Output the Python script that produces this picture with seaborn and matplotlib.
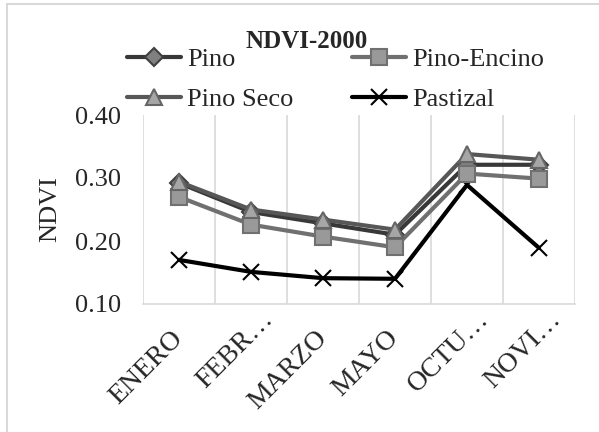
import matplotlib
matplotlib.use("Agg")
import matplotlib.pyplot as plt
import matplotlib.transforms as mtransforms
import seaborn as sns
import pandas as pd
from matplotlib.patches import Rectangle
from matplotlib.ticker import FormatStrFormatter

months = ["ENERO", "FEBR…", "MARZO", "MAYO", "OCTU…", "NOVI…"]
pino = [0.292, 0.246, 0.228, 0.210, 0.321, 0.321]
pino_encino = [0.270, 0.226, 0.207, 0.190, 0.307, 0.299]
pino_seco = [0.294, 0.250, 0.234, 0.218, 0.338, 0.329]
pastizal = [0.170, 0.151, 0.141, 0.140, 0.289, 0.189]
series_names = ["Pino", "Pino-Encino", "Pino Seco", "Pastizal"]
series_vals = [pino, pino_encino, pino_seco, pastizal]

sns.set_theme(style="white")
plt.rcParams["font.family"] = ["Liberation Serif", "DejaVu Serif"]

fig = plt.figure(figsize=(5.99, 4.32), dpi=100)
ax = fig.add_axes([143 / 599, 1 - 304 / 432, (575 - 143) / 599, (304 - 115) / 432])

line_colors = {"Pino": "#383838", "Pino-Encino": "#707070", "Pino Seco": "#575757", "Pastizal": "#000000"}
markers = {"Pino": "D", "Pino-Encino": "s", "Pino Seco": "^", "Pastizal": "x"}
face = {"Pino": "#808080", "Pino-Encino": "#999999", "Pino Seco": "#A6A6A6", "Pastizal": "#000000"}
edge = {"Pino": "#404040", "Pino-Encino": "#707070", "Pino Seco": "#666666", "Pastizal": "#000000"}
msize = {"Pino": 9, "Pino-Encino": 11, "Pino Seco": 11, "Pastizal": 11}
zord = {"Pino": 3, "Pino-Encino": 4, "Pino Seco": 5, "Pastizal": 2}

for name, vals in zip(series_names, series_vals):
    d = pd.DataFrame({"Mes": months, "NDVI": vals})
    sns.lineplot(data=d, x="Mes", y="NDVI", color=line_colors[name], sort=False,
                 marker=markers[name], markersize=msize[name],
                 markerfacecolor=face[name], markeredgecolor=edge[name],
                 markeredgewidth=1.5, linewidth=3, ax=ax, label=name,
                 legend=False, zorder=zord[name])

ax.set_ylim(0.10, 0.40)
ax.set_yticks([0.10, 0.20, 0.30, 0.40])
ax.yaxis.set_major_formatter(FormatStrFormatter("%.2f"))
ax.set_xlim(-0.5, 5.5)
ax.set_xticks(range(len(months)))
ax.set_xticklabels(months, rotation=45, fontsize=20)
ax.tick_params(axis="y", labelsize=19, length=0, pad=16)
ax.tick_params(axis="x", length=0, pad=22)
ax.set_xlabel("")
ax.set_ylabel("NDVI", fontsize=19, labelpad=10)

fs_px = 20 * 100 / 72
for lab in ax.get_xticklabels():
    lab.set_rotation_mode("anchor")
    lab.set_horizontalalignment("right")
    lab.set_verticalalignment("center")
    if lab.get_text().endswith("…"):
        shift = 0.95 * fs_px * 0.7071 / 100
        lab.set_transform(lab.get_transform() +
                          mtransforms.ScaledTranslation(shift, shift, fig.dpi_scale_trans))

for xb in [-0.5, 0.5, 1.5, 2.5, 3.5, 4.5, 5.5]:
    ax.axvline(xb, color="#D9D9D9", lw=1.2, zorder=0)
for s in ["top", "right", "left"]:
    ax.spines[s].set_visible(False)
ax.spines["bottom"].set_color("#D9D9D9")
ax.spines["bottom"].set_linewidth(1.2)

handles = []
for name in series_names:
    h = plt.Line2D([], [], color=line_colors[name], lw=3, marker=markers[name],
                   markerfacecolor=face[name], markeredgecolor=edge[name],
                   markersize=msize[name], markeredgewidth=1.5)
    handles.append(h)
order = [0, 2, 1, 3]
fig.legend([handles[i] for i in order], [series_names[i] for i in order],
           ncol=2, loc="upper left", bbox_to_anchor=(127 / 599, 1 - 48 / 432),
           frameon=False, fontsize=19, handlelength=2.05, handletextpad=0.23,
           columnspacing=2.2, labelspacing=0.6, borderaxespad=0, borderpad=0)

fig.text(307 / 599, 1 - 42 / 432, "NDVI-2000", ha="center", va="center",
         fontsize=18, fontweight="bold")

fig.patches.append(Rectangle((7 / 599, -0.1), 1.2, 1 - 4 / 432 + 0.1,
                             transform=fig.transFigure, fill=False,
                             edgecolor="#D9D9D9", lw=1.5, zorder=0))

fig.savefig("out.png", dpi=100)
